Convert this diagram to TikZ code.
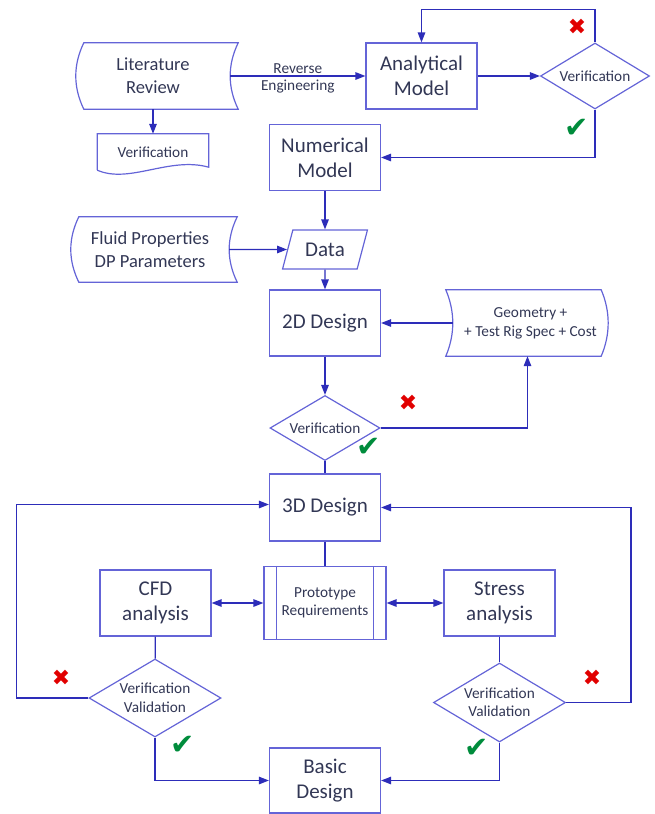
\documentclass[tikz,border=0pt]{standalone}
\usepackage{fontspec}
\setmainfont{Carlito}
\newfontfamily\sym{DejaVu Sans}
\usetikzlibrary{arrows.meta,shapes.geometric}

\definecolor{boxblue}{RGB}{100,100,215}
\definecolor{lineblue}{RGB}{45,45,185}
\definecolor{txt}{RGB}{50,55,85}
\definecolor{xred}{RGB}{225,0,0}
\definecolor{okgreen}{RGB}{0,140,60}

\tikzset{
    box/.style={draw=boxblue, line width=1.2pt, text=txt, align=center, inner sep=0pt,
                minimum width=111pt, minimum height=66pt, font=\fontsize{21}{25}\selectfont},
    store/.style={text=txt, align=center, inner sep=0pt, minimum height=66pt,
                font=\fontsize{18.5}{23}\selectfont},
    rim/.style={draw=boxblue, line width=1.2pt},
    check/.style={diamond, aspect=1.65, draw=boxblue, line width=1.2pt, text=txt, align=center,
                inner sep=0pt, font=\fontsize{15.3}{18.5}\selectfont},
    lbl/.style={text=txt, align=center, font=\fontsize{15.3}{18.5}\selectfont},
    link/.style={draw=lineblue, line width=1.3pt},
    arr/.style={link, -{Triangle[length=10pt,width=7.5pt]}},
    both/.style={link, {Triangle[length=10pt,width=7.5pt]}-{Triangle[length=10pt,width=7.5pt]}},
    nogo/.style={text=xred, font=\sym\fontsize{22}{22}\selectfont},
    okay/.style={text=okgreen, font=\sym\fontsize{29}{29}\selectfont}
}

\begin{document}
\begin{tikzpicture}[x=1pt,y=-1pt]
        \useasboundingbox (0,0) rectangle (654,814);
        % blocks
        \node[store, minimum width=154pt] (lit) at (153,76) {Literature\\Review};
        \node[box] (ana) at (421.5,76) {Analytical\\Model};
        \node[check, minimum width=109pt, minimum height=66pt] (ver1) at (595,76) {Verification};
        \node[lbl, minimum width=111pt, minimum height=36pt, inner sep=0pt] (doc) at (153,152) {Verification};
        \node[box] (num) at (325,157.5) {Numerical\\Model};
        \node[store, minimum width=158pt, minimum height=65pt] (fluid) at (150,249.5) {Fluid Properties\\DP Parameters};
        \node[trapezium, trapezium left angle=65, trapezium right angle=115, trapezium stretches=true,
              minimum width=85pt, minimum height=39pt, draw=boxblue, line width=1.2pt, text=txt,
              inner sep=0pt, font=\fontsize{21}{25}\selectfont] (data) at (325,249.5) {Data};
        \node[box] (d2) at (325,323) {2D Design};
        \node[store, minimum width=155pt, font=\fontsize{15.3}{19}\selectfont] (geo) at (530.5,323) {Geometry +\\+ Test Rig Spec + Cost};
        \node[check, minimum width=110pt, minimum height=65pt] (ver2) at (325,428) {Verification};
        \node[box, minimum height=67pt] (d3) at (325,507.5) {3D Design};
        \node[box, minimum width=122pt, minimum height=73pt, font=\fontsize{15.3}{18.5}\selectfont] (proto) at (325,603) {Prototype\\Requirements};
        \node[box] (cfd) at (155.5,603) {CFD\\analysis};
        \node[box] (stress) at (499.5,603) {Stress\\analysis};
        \node[check, minimum width=132pt, minimum height=78pt] (vv1) at (155,698) {Verification\\Validation};
        \node[check, minimum width=132pt, minimum height=79pt] (vv2) at (499.5,702.5) {Verification\\Validation};
        \node[box, minimum height=65pt] (basic) at (325,780.5) {Basic\\Design};

        % outlines of the odd shapes
        \foreach \n in {lit,fluid}
            \draw[rim] ([xshift=8pt]\n.north west) -- ([xshift=8pt]\n.north east)
                .. controls +(-10.7,22) and +(-10.7,-22) .. ([xshift=8pt]\n.south east)
                -- ([xshift=8pt]\n.south west)
                .. controls +(-10.7,-22) and +(-10.7,22) .. ([xshift=8pt]\n.north west) -- cycle;
        \draw[rim] ([xshift=-7pt]geo.north west) -- ([xshift=-7pt]geo.north east)
            .. controls +(9.3,22) and +(9.3,-22) .. ([xshift=-7pt]geo.south east)
            -- ([xshift=-7pt]geo.south west)
            .. controls +(9.3,-22) and +(9.3,22) .. ([xshift=-7pt]geo.north west) -- cycle;
        \draw[rim] (doc.south west) -- (doc.north west) -- (doc.north east) -- ([yshift=3pt]doc.south east)
            .. controls +(-39,-11) and +(32,14) .. (doc.south west);
        \draw[rim] ([xshift=13pt]proto.north west) -- ([xshift=13pt]proto.south west)
                   ([xshift=-13pt]proto.north east) -- ([xshift=-13pt]proto.south east);

        % connectors
        \path
            (lit) edge [arr] node[lbl, above, inner sep=2pt] {Reverse}
                             node[lbl, below, inner sep=3.5pt] {Engineering} (ana)
                  edge [arr] (doc)
            (ana) edge [arr] (ver1)
            (num) edge [arr] (data)
            (fluid) edge [arr] (data)
            (data) edge [arr] (d2)
            (geo) edge [arr] (d2)
            (d2) edge [arr] (ver2)
            (ver2) edge [link] (d3)
            (d3) edge [link] (proto)
            (cfd) edge [both] (proto)
                  edge [link] (vv1)
            (proto) edge [both] (stress)
            (stress) edge [link] (vv2)
            ;
        \draw[arr] (ver1.north) -- ++(0,-33) -| (ana.north);
        \draw[arr] (ver1.south) |- (num.east);
        \draw[arr] (ver2.east) -| ([xshift=-3pt]geo.south);
        \draw[arr] (vv1.west) -- ++(-72,0) |- ([yshift=3pt]d3.west);
        \draw[arr] (vv2.east) -- ++(65,0) |- (d3.east);
        \draw[arr] (vv1.south) |- (basic.west);
        \draw[arr] (vv2.south) |- (basic.east);

        % marks
        \node[nogo] (no1) at (577,27) {✖};
        \node[okay] (ok1) at (577,128) {✔};
        \node[nogo] (no2) at (408,403) {✖};
        \node[okay] (ok2) at (369,447) {✔};
        \node[nogo] (no3) at (61,678) {✖};
        \node[okay] (ok3) at (183,745) {✔};
        \node[nogo] (no4) at (592,678) {✖};
        \node[okay] (ok4) at (477,748) {✔};
    \end{tikzpicture}
\end{document}
